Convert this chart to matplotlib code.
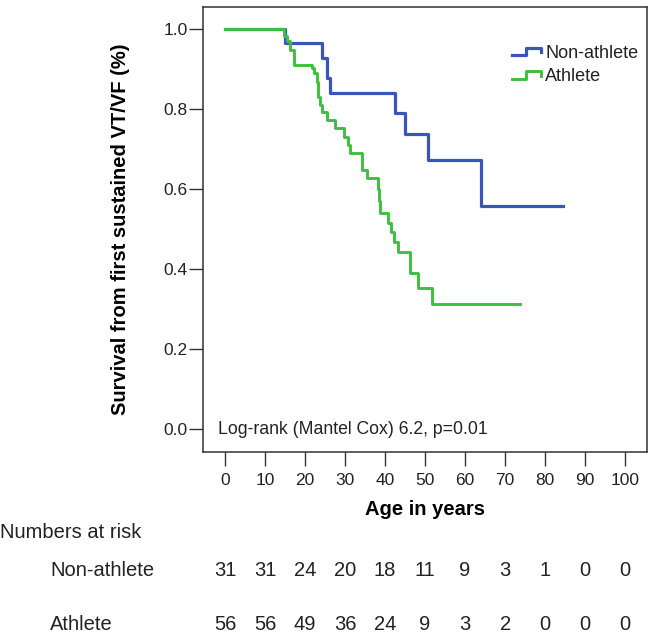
import numpy as np
import matplotlib
matplotlib.use('Agg')
import matplotlib.pyplot as plt
import matplotlib.transforms as mtransforms
from matplotlib.lines import Line2D
from matplotlib.legend_handler import HandlerBase

plt.rcParams['font.family'] = ['Liberation Sans', 'DejaVu Sans']

# Kaplan-Meier curves (age in years, survival)
nonath_t = [0, 15.0, 24.2, 25.4, 26.2, 42.5, 45.0, 50.6, 63.9, 84.5]
nonath_s = [1.0, 0.964, 0.926, 0.876, 0.839, 0.789, 0.737, 0.671, 0.558, 0.558]

ath_t = [0, 14.6, 15.4, 16.2, 17.1, 21.7, 22.1, 22.9, 23.3, 23.7, 24.2, 25.4,
         27.5, 29.6, 30.8, 31.2, 34.2, 35.4, 38.3, 38.5, 38.7, 40.8, 41.5,
         42.1, 43.3, 46.1, 48.3, 51.8, 73.6]
ath_s = [1.0, 0.982, 0.968, 0.947, 0.909, 0.901, 0.889, 0.868, 0.830, 0.810,
         0.793, 0.772, 0.751, 0.730, 0.710, 0.689, 0.647, 0.627, 0.600, 0.570,
         0.539, 0.514, 0.493, 0.468, 0.443, 0.389, 0.353, 0.313, 0.313]

# numbers at risk
risk_ages = [0, 10, 20, 30, 40, 50, 60, 70, 80, 90, 100]
risk_nonath = [31, 31, 24, 20, 18, 11, 9, 3, 1, 0, 0]
risk_ath = [56, 56, 49, 36, 24, 9, 3, 2, 0, 0, 0]

blue = '#3b54b7'
green = '#3ebf3e'
txt = '#222222'


class StepHandler(HandlerBase):
    # little step glyph like the SPSS legend
    def create_artists(self, legend, orig_handle, xdescent, ydescent,
                       width, height, fontsize, trans):
        xs = np.array([0, 0.45, 0.45, 0.95, 0.95]) * width - xdescent
        ys = np.array([0.2, 0.2, 0.8, 0.8, 0.45]) * height - ydescent
        ln = Line2D(xs, ys, color=orig_handle.get_color(),
                    lw=orig_handle.get_linewidth(), transform=trans)
        return [ln]


W, H = 654, 639
fig = plt.figure(figsize=(W / 100, H / 100), dpi=100)
ax = fig.add_axes([202.7 / W, 1 - 451.7 / H, (646.7 - 202.7) / W, (451.7 - 7) / H])

l1, = ax.step(nonath_t, nonath_s, where='post', color=blue, lw=2.3, label='Non-athlete')
l2, = ax.step(ath_t, ath_s, where='post', color=green, lw=2.1, label='Athlete')

ax.set_xlim(-5.6, 105.4)
ax.set_ylim(-0.056, 1.054)
ax.set_xticks(risk_ages)
ax.set_yticks([0.0, 0.2, 0.4, 0.6, 0.8, 1.0])
ax.set_yticklabels(['0.0', '0.2', '0.4', '0.6', '0.8', '1.0'])
ax.tick_params(axis='both', direction='out', length=10, width=1, color='#333333',
               labelsize=12.5, labelcolor=txt)
ax.tick_params(axis='x', pad=5)
ax.tick_params(axis='y', pad=1)
for sp in ax.spines.values():
    sp.set_color('#333333')
    sp.set_linewidth(1.1)

ax.set_ylabel('Survival from first sustained VT/VF (%)', fontsize=14.5,
              fontweight='bold', labelpad=24)
ax.set_xlabel('Age in years', fontsize=14.5, fontweight='bold', labelpad=9)

ax.text(-1.7, 0.0, 'Log-rank (Mantel Cox) 6.2, p=0.01', fontsize=12.7,
        va='center', ha='left', color=txt)

leg = ax.legend(handles=[l1, l2], handler_map={Line2D: StepHandler()},
                loc='upper left', bbox_to_anchor=(512 / W, 1 - 45 / H),
                bbox_transform=fig.transFigure, frameon=False, fontsize=13,
                handlelength=1.7, handletextpad=0.15, labelspacing=0.35,
                borderpad=0, borderaxespad=0)
for t in leg.get_texts():
    t.set_color(txt)

# numbers at risk table
tr = mtransforms.blended_transform_factory(ax.transData, fig.transFigure)
fs = 14.5
fig.text(0.0, 1 - 533 / H, 'Numbers at risk', fontsize=fs, va='center',
         ha='left', color=txt)
fig.text(50 / W, 1 - 570 / H, 'Non-athlete', fontsize=fs, va='center',
         ha='left', color=txt)
fig.text(50 / W, 1 - 625 / H, 'Athlete', fontsize=fs, va='center',
         ha='left', color=txt)
for a, n1, n2 in zip(risk_ages, risk_nonath, risk_ath):
    ax.text(a, 1 - 570 / H, str(n1), transform=tr, fontsize=fs,
            ha='center', va='center', color=txt)
    ax.text(a, 1 - 625 / H, str(n2), transform=tr, fontsize=fs,
            ha='center', va='center', color=txt)

fig.savefig('out.png', dpi=100)
